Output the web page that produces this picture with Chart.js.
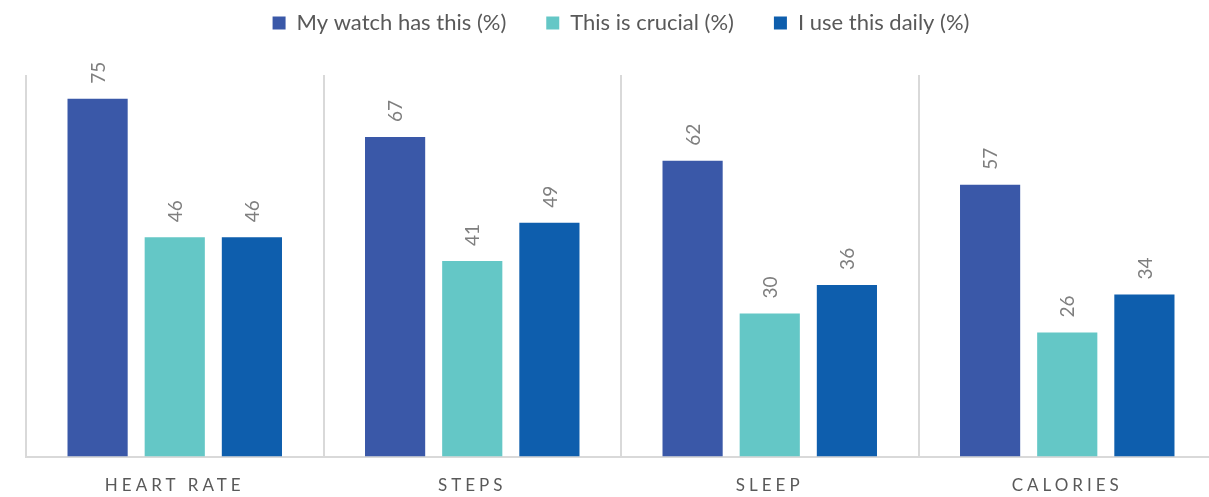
<!DOCTYPE html>
<html>
<head>
<meta charset="utf-8">
<script src="https://cdn.jsdelivr.net/npm/chart.js@4.4.1/dist/chart.umd.min.js"></script>
<style>
  html, body { margin: 0; padding: 0; overflow: hidden; background: #fff; }
  #wrap { width: 1218px; height: 497px; position: relative; }
</style>
</head>
<body>
<div id="wrap"><canvas id="barChart"></canvas></div>
<script>
// chart data
const categories = ['HEART RATE', 'STEPS', 'SLEEP', 'CALORIES'];
const seriesNames = ['My watch has this (%)', 'This is crucial (%)', 'I use this daily (%)'];
const watchHas = [75, 67, 62, 57];
const crucial = [46, 41, 30, 26];
const useDaily = [46, 49, 36, 34];
const seriesColors = ['#3A58A8', '#64C7C6', '#0E5EAD'];

const FONT = 'Lato, "Liberation Sans", sans-serif';

// rotated value labels above each bar, then letter spacing for the category ticks
const barLabels = {
  id: 'barLabels',
  beforeLayout(chart) {
    // extra room between legend and plot
    const lg = chart.legend;
    if (lg && !lg._patched) {
      const fit = lg.fit;
      lg.fit = function () { fit.call(this); this.height += 31; };
      lg._patched = true;
    }
  },
  afterDatasetsDraw(chart) {
    const ctx = chart.ctx;
    ctx.save();
    ctx.font = '19px ' + FONT;
    ctx.fillStyle = '#7F7F7F';
    ctx.textAlign = 'left';
    ctx.textBaseline = 'middle';
    chart.data.datasets.forEach((ds, i) => {
      chart.getDatasetMeta(i).data.forEach((bar, j) => {
        ctx.save();
        ctx.translate(bar.x + 1, bar.y - 15);
        ctx.rotate(-Math.PI / 2);
        ctx.fillText(ds.data[j], 0, 0);
        ctx.restore();
      });
    });
    ctx.restore();
    ctx.letterSpacing = '4px';
  },
  afterDraw(chart) {
    chart.ctx.letterSpacing = '0px';
  }
};

const ctx = document.getElementById('barChart').getContext('2d');
new Chart(ctx, {
  type: 'bar',
  data: {
    labels: categories,
    datasets: [watchHas, crucial, useDaily].map((d, i) => ({
      label: seriesNames[i],
      data: d,
      backgroundColor: seriesColors[i],
      borderWidth: 0,
      categoryPercentage: 0.778,
      barPercentage: 0.78
    }))
  },
  options: {
    responsive: true,
    maintainAspectRatio: false,
    animation: false,
    layout: { padding: { left: 26, right: 2, top: -28, bottom: -18 } },
    plugins: {
      legend: {
        position: 'top',
        labels: {
          boxWidth: 13,
          boxHeight: 13,
          padding: 40,
          color: '#595959',
          font: { family: FONT, size: 22 }
        }
      },
      tooltip: { enabled: false }
    },
    scales: {
      x: {
        grid: { display: true, offset: true, color: '#D9D9D9', lineWidth: 2, drawTicks: false },
        border: { display: true, color: '#D9D9D9', width: 2 },
        ticks: { color: '#595959', font: { family: FONT, size: 17 }, padding: 19, z: 1 }
      },
      y: {
        display: false,
        min: 0,
        max: 80
      }
    }
  },
  plugins: [barLabels]
});
</script>
</body>
</html>
